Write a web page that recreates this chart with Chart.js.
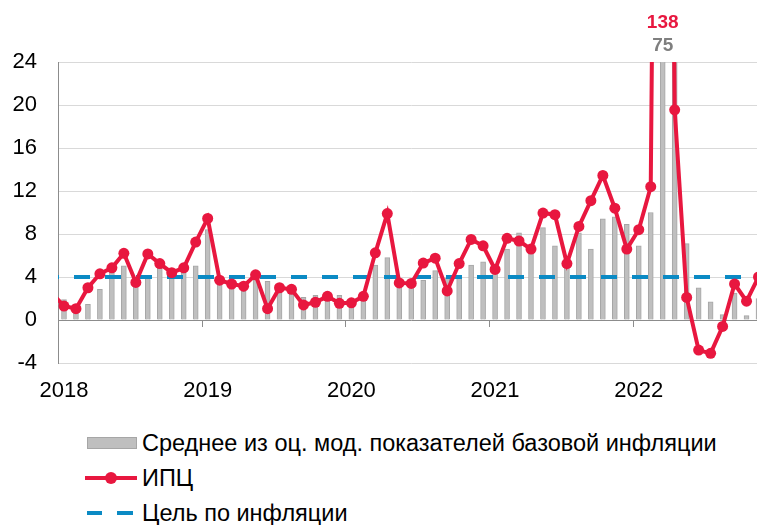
<!DOCTYPE html>
<html>
<head>
<meta charset="utf-8">
<script src="https://cdn.jsdelivr.net/npm/chart.js@4"></script>
<style>
  html, body { margin: 0; padding: 0; background: #fff; overflow: hidden; }
  #wrap { position: relative; width: 757px; height: 525px; overflow: hidden; }
  #c { position: absolute; left: 0; top: 0; }
  .row { position: absolute; left: 0; height: 26px; line-height: 26px; white-space: nowrap;
         font: 23.5px "Liberation Sans", Arial, sans-serif; color: #000; }
  .row span.txt { position: absolute; left: 142px; top: 0; }
  .sw { position: absolute; }
</style>
</head>
<body>
<div id="wrap">
  <canvas id="c" width="770" height="410"></canvas>
  <div class="row" style="top:430px">
    <div class="sw" style="left:87px;top:7px;width:48px;height:10px;background:#bfbfbf;border:1px solid #a6a6a6"></div>
    <span class="txt">Среднее из оц. мод. показателей базовой инфляции</span>
  </div>
  <div class="row" style="top:465px">
    <div class="sw" style="left:85px;top:11px;width:52px;height:4px;background:#e8173f"></div>
    <div class="sw" style="left:105px;top:7px;width:12px;height:12px;border-radius:6px;background:#e8173f"></div>
    <span class="txt">ИПЦ</span>
  </div>
  <div class="row" style="top:500px">
    <div class="sw" style="left:87px;top:11px;width:15px;height:4px;background:#0b8ac4"></div>
    <div class="sw" style="left:117px;top:11px;width:16px;height:4px;background:#0b8ac4"></div>
    <span class="txt">Цель по инфляции</span>
  </div>
</div>
<script>
// months: Dec 2017 (only the stub of the line shows) .. Nov 2022
const years = [2018, 2019, 2020, 2021, 2022];
const months = ['2017-12'];
years.forEach(y => {
  for (let m = 1; m <= 12; m++) {
    if (y === 2022 && m > 11) break;
    months.push(y + '-' + String(m).padStart(2, '0'));
  }
});

// ИПЦ, % m/m saar
const cpi = [2.5,
  1.3, 1.05, 3.0, 4.3, 4.85, 6.2, 3.5, 6.15, 5.25, 4.4, 4.85, 7.25,
  9.45, 3.7, 3.35, 3.15, 4.2, 1.05, 3.0, 2.85, 1.4, 1.65, 2.2, 1.55,
  1.6, 2.2, 6.25, 9.9, 3.45, 3.4, 5.3, 5.75, 2.7, 5.25, 7.5, 6.9,
  4.7, 7.6, 7.35, 6.6, 9.95, 9.8, 5.25, 8.7, 11.1, 13.45, 10.4, 6.6,
  8.4, 12.4, 138, 19.55, 2.1, -2.8, -3.1, -0.6, 3.35, 1.75, 4.0];

// среднее из оценок модифицированных показателей базовой инфляции
const core = [null,
  1.9, 0.8, 1.45, 2.85, 4.4, 5.05, 3.3, 4.0, 4.8, 3.9, 4.4, 5.05,
  8.4, 3.6, 3.0, 2.7, 4.1, 3.6, 2.7, 2.5, 2.1, 2.3, 2.2, 2.3,
  1.4, 1.9, 5.1, 5.8, 3.6, 3.3, 3.7, 4.6, 3.9, 4.1, 5.1, 5.4,
  4.6, 6.6, 8.1, 6.3, 8.6, 6.9, 5.6, 8.1, 6.6, 9.4, 9.6, 8.9,
  6.9, 10.0, 75, 26, 7.1, 3.0, 1.7, 0.5, 2.5, 0.4, 2.0];

const targetLevel = 4;
const target = months.map(() => targetLevel);

const calloutMonths = ['2022-03'];
const yTicks = [-4, 0, 4, 8, 12, 16, 20, 24];

const RED = '#e8173f', BLUE = '#0b8ac4', GREY = '#bfbfbf';
const fontFamily = '"Liberation Sans", Arial, sans-serif';

// small year ticks hanging from the zero line
const yearTicks = {
  id: 'yearTicks',
  afterDatasetsDraw(chart) {
    const { ctx, scales: { x, y } } = chart;
    const y0 = Math.round(y.getPixelForValue(0));
    const step = x.getPixelForValue(2) - x.getPixelForValue(1);
    ctx.save();
    ctx.strokeStyle = '#8c8c8c';
    ctx.lineWidth = 1;
    months.forEach((m, i) => {
      if (!m.endsWith('-01')) return;
      const px = Math.round(x.getPixelForValue(i) - step / 2) + 0.5;
      ctx.beginPath();
      ctx.moveTo(px, y0);
      ctx.lineTo(px, y0 + 7);
      ctx.stroke();
    });
    ctx.restore();
  }
};

// values that go off the top of the scale
const callouts = {
  id: 'callouts',
  afterDraw(chart) {
    const { ctx, scales: { x } } = chart;
    ctx.save();
    ctx.textAlign = 'center';
    ctx.textBaseline = 'middle';
    ctx.font = 'bold 19px ' + fontFamily;
    calloutMonths.forEach(m => {
      const i = months.indexOf(m);
      const px = x.getPixelForValue(i);
      ctx.fillStyle = RED;
      ctx.fillText(String(cpi[i]), px, 23);
      ctx.fillStyle = '#7f7f7f';
      ctx.fillText(String(core[i]), px, 46);
    });
    ctx.restore();
  }
};

new Chart(document.getElementById('c'), {
  type: 'bar',
  data: {
    labels: months,
    datasets: [
      { type: 'line', label: 'ИПЦ', data: cpi, borderColor: RED, backgroundColor: RED,
        borderWidth: 4, pointRadius: 5.5, pointBackgroundColor: RED, pointBorderWidth: 0,
        tension: 0, order: 0 },
      { type: 'line', label: 'Цель по инфляции', data: target, borderColor: BLUE,
        borderWidth: 4, borderDash: [16, 15], borderDashOffset: 9, pointRadius: 0, order: 1 },
      { type: 'bar', label: 'Среднее из оц. мод. показателей базовой инфляции', data: core,
        backgroundColor: GREY, borderColor: '#a6a6a6', borderWidth: 1, barThickness: 5, order: 2 }
    ]
  },
  options: {
    responsive: false,
    animation: false,
    devicePixelRatio: 1,
    layout: { padding: { top: 62, right: 4, left: 0, bottom: 0 } },
    plugins: { legend: { display: false }, tooltip: { enabled: false } },
    scales: {
      x: {
        min: '2018-01',
        offset: true,
        grid: { display: false, drawTicks: false },
        border: { display: false },
        ticks: {
          autoSkip: false, maxRotation: 0, padding: 0, color: '#000',
          font: { family: fontFamily, size: 22, lineHeight: 56 / 22 },
          callback(v) {
            const l = this.getLabelForValue(v);
            return l.endsWith('-01') ? l.slice(0, 4) : '';
          }
        },
        afterFit: s => { s.height = 47; }
      },
      y: {
        min: yTicks[0], max: yTicks[yTicks.length - 1],
        afterBuildTicks: s => { s.ticks = yTicks.map(v => ({ value: v })); },
        ticks: { padding: 21, color: '#000', font: { family: fontFamily, size: 22 } },
        grid: { drawTicks: false, color: c => c.tick && c.tick.value === 0 ? '#8c8c8c' : '#d9d9d9' },
        border: { color: '#8c8c8c' },
        afterFit: s => { s.width = 58; }
      }
    }
  },
  plugins: [yearTicks, callouts]
});
</script>
</body>
</html>
